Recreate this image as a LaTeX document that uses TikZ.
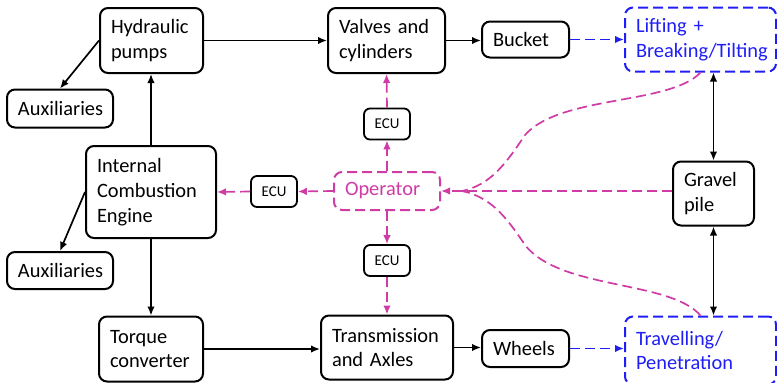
\documentclass[tikz,border=0pt]{standalone}
\usepackage{fontspec}
\setmainfont{Carlito}
\usetikzlibrary{arrows.meta}
\definecolor{opcol}{RGB}{208,60,165}
\definecolor{taskcol}{RGB}{30,30,245}

\begin{document}
\begin{tikzpicture}[x=0.5pt,y=-0.5pt,
	box/.style={draw,rounded corners=4pt,line width=1pt,inner xsep=5.5pt,inner ysep=0pt,align=left,font=\fontsize{10.2}{12.4}\selectfont},
	ecu/.style={draw,rounded corners=3pt,line width=0.9pt,inner sep=0pt,minimum width=23pt,minimum height=15.5pt,font=\fontsize{7.5}{9}\selectfont},
	task/.style={box,draw=taskcol,text=taskcol,dash pattern=on 5pt off 2.5pt},
	oper/.style={box,draw=opcol,text=opcol,dash pattern=on 5pt off 2.5pt},
	flow/.style={-{Latex[length=4.5pt,width=3.8pt]},line width=0.85pt},
	twoway/.style={{Latex[length=4.5pt,width=3.8pt]}-{Latex[length=4.5pt,width=3.8pt]},line width=0.85pt},
	taskflow/.style={flow,taskcol,dash pattern=on 5pt off 2.5pt},
	ctrl/.style={flow,opcol,dash pattern=on 5pt off 2.5pt},
	ctrlline/.style={line width=0.85pt,opcol,dash pattern=on 5pt off 2.5pt}]
	
	\useasboundingbox (0,0) rectangle (777,382);
	
	% Draw nodes
	\node[box,text width=40.5pt,minimum height=32.5pt] (hyd) at (151.5,40.5) {Hydraulic\\pumps};
	\node[box,text width=42pt,minimum height=19pt] (auxT) at (60,108.5) {Auxiliaries};
	\node[box,text width=47.5pt,minimum height=32.5pt] (valves) at (386.5,40.5) {Valves and\\cylinders};
	\node[box,text width=32.5pt,minimum height=18pt] (bucket) at (525.5,39.5) {Bucket};
	\node[task,text width=64.5pt,minimum height=32pt] (lift) at (700.5,39.5) {Lifting +\\Breaking/Tilting};
	\node[ecu] (ecuT) at (387,124) {ECU};
	\node[oper,text width=42pt,minimum height=19pt] (op) at (387,191) {Operator};
	\node[ecu] (ecuL) at (274,191.5) {ECU};
	\node[box,text width=54pt,minimum height=46pt] (ice) at (151,192) {Internal\\Combustion\\Engine};
	\node[box,text width=42pt,minimum height=18.5pt] (auxB) at (60,270.5) {Auxiliaries};
	\node[box,text width=41pt,minimum height=32.5pt] (torque) at (151,349) {Torque\\converter};
	\node[ecu] (ecuB) at (387,260.5) {ECU};
	\node[box,text width=55pt,minimum height=32pt] (trans) at (387,347.5) {Transmission\\and Axles};
	\node[box,text width=32.5pt,minimum height=18.5pt] (wheels) at (525.5,348.5) {Wheels};
	\node[box,text width=29.5pt,minimum height=32pt] (gravel) at (713.5,193.5) {Gravel\\pile};
	\node[task,text width=64.5pt,minimum height=34pt] (travel) at (700.5,350.5) {Travelling/\\Penetration};
	
	% Draw arcs, power flow
	\draw[flow] (hyd.east) -- (valves.west);
	\draw[flow] (valves.east) -- (valves.east -| bucket.west);
	\draw[flow] (hyd.west) -- (auxT.north);
	\draw[flow] (ice.north) -- (ice.north |- hyd.south);
	\draw[flow] (ice.west) -- (auxB.north);
	\draw[flow] (ice.south) -- (ice.south |- torque.north);
	\draw[flow] (torque.east) -- (torque.east -| trans.west);
	\draw[flow] (trans.east) -- (trans.east -| wheels.west);
	\draw[taskflow] (bucket.east) -- (bucket.east -| lift.west);
	\draw[taskflow] (wheels.east) -- (wheels.east -| travel.west);
	\draw[twoway] (gravel.north) -- (gravel.north |- lift.south);
	\draw[twoway] (gravel.south) -- (gravel.south |- travel.north);
	
	% Draw arcs, operator commands through the ECUs
	\draw[ctrl] (op.north) -- (ecuT.south);
	\draw[ctrl] (ecuT.north) -- (valves.south);
	\draw[ctrl] (op.west) -- (ecuL.east);
	\draw[ctrl] (ecuL.west) -- (ice.east);
	\draw[ctrl] (op.south) -- (ecuB.north);
	\draw[ctrl] (ecuB.south) -- (trans.north);
	
	% Draw arcs, what the operator sees
	\coordinate (merge) at (462,191);
	\draw[ctrl] (gravel.west |- op.east) -- (op.east);
	\draw[ctrlline] (lift.south) .. controls (670,105) and (560,95) .. (525,135) .. controls (505,165) and (490,185) .. (merge);
	\draw[ctrlline] (travel.north) .. controls (670,280) and (560,290) .. (525,245) .. controls (505,215) and (490,197) .. (merge);
	
\end{tikzpicture}
\end{document}
